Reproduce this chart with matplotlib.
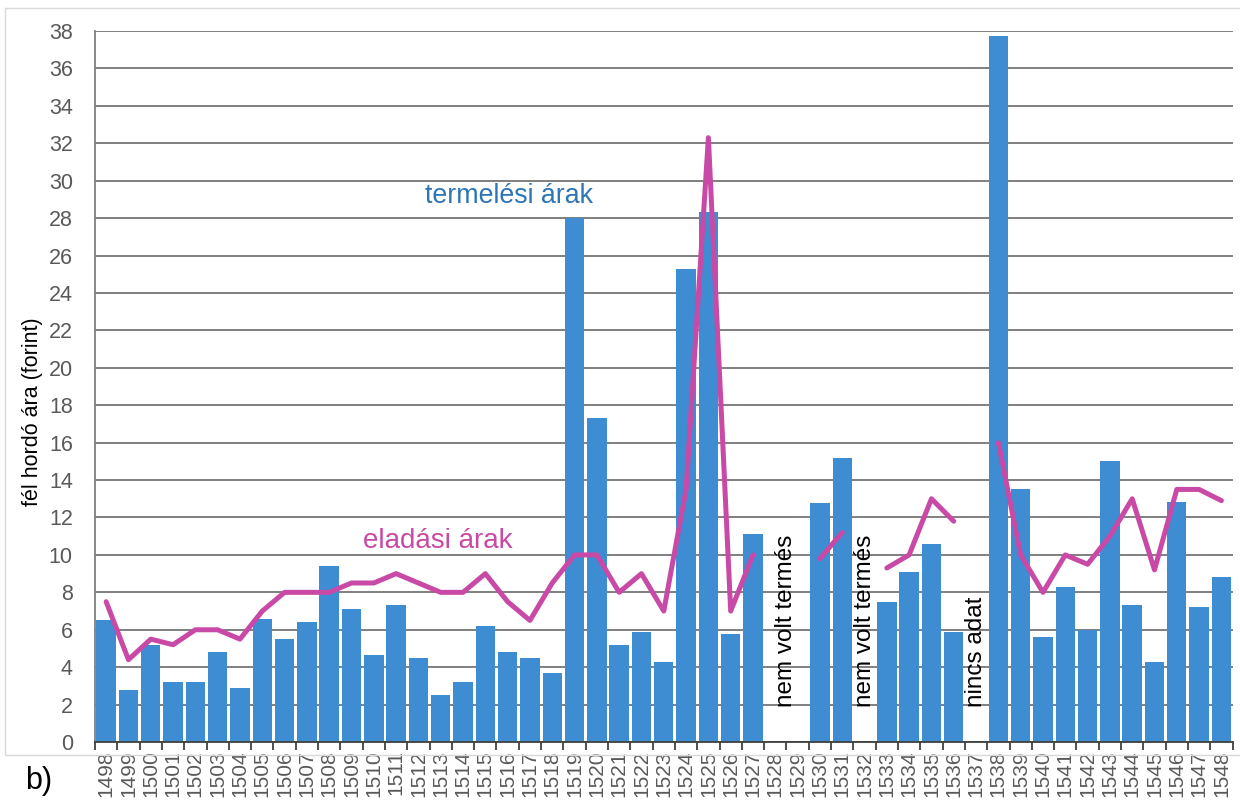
import numpy as np
import matplotlib.pyplot as plt
from matplotlib.patches import Rectangle

plt.rcParams['font.family'] = ['Liberation Sans', 'DejaVu Sans']

years = list(range(1498, 1549))

# termelési árak (bars), nan = no data
termelesi = [6.5, 2.8, 5.2, 3.2, 3.2, 4.8, 2.9, 6.6, 5.5, 6.4,
             9.4, 7.1, 4.65, 7.3, 4.5, 2.5, 3.2, 6.2, 4.8, 4.5,
             3.7, 28.0, 17.3, 5.2, 5.9, 4.3, 25.3, 28.3, 5.8, 11.1,
             np.nan, np.nan, 12.8, 15.2, np.nan, 7.5, 9.1, 10.6, 5.9, np.nan,
             37.75, 13.5, 5.6, 8.3, 6.0, 15.0, 7.3, 4.3, 12.85, 7.2,
             8.8]

# eladási árak (line)
eladasi = [7.5, 4.4, 5.5, 5.2, 6.0, 6.0, 5.5, 7.0, 8.0, 8.0,
           8.0, 8.5, 8.5, 9.0, 8.5, 8.0, 8.0, 9.0, 7.5, 6.5,
           8.5, 10.0, 10.0, 8.0, 9.0, 7.0, 13.5, 32.3, 7.0, 10.0,
           np.nan, np.nan, 9.8, 11.2, np.nan, 9.3, 10.0, 13.0, 11.8, np.nan,
           16.0, 10.0, 8.0, 10.0, 9.5, 11.0, 13.0, 9.2, 13.5, 13.5,
           12.9]

notes = [(30.5, 'nem volt termés'), (34, 'nem volt termés'), (39, 'nincs adat')]

bar_color = '#3e8cd2'
line_color = '#c94aa6'
grid_color = '#7f7f7f'

fig = plt.figure(figsize=(12.4, 8.07), dpi=100)
ax = fig.add_axes([0.0766, 0.0805, 0.9174, 0.8811])

x = np.arange(len(years))
ax.bar(x, termelesi, width=0.87, color=bar_color, zorder=2)
ax.plot(x, eladasi, color=line_color, lw=3.6, solid_capstyle='round',
        solid_joinstyle='round', zorder=3)

ax.set_xlim(-0.5, len(years) - 0.5)
ax.set_ylim(0, 38)
ax.set_yticks(np.arange(0, 39, 2))
ax.yaxis.grid(True, color=grid_color, lw=1.4, zorder=0)
ax.set_axisbelow(True)

ax.set_xticks(x)
ax.set_xticklabels([str(y) for y in years], rotation=90)
ax.set_xticks(np.arange(-0.5, len(years), 1), minor=True)
ax.tick_params(axis='x', which='major', length=0, pad=6, labelsize=15,
               labelcolor='#595959')
ax.tick_params(axis='x', which='minor', length=6, width=1.3, color='#404040')
ax.tick_params(axis='y', length=0, pad=16, labelsize=15.5, labelcolor='#595959')

for s in ['top', 'right']:
    ax.spines[s].set_visible(False)
ax.spines['left'].set_color(grid_color)
ax.spines['left'].set_linewidth(1.3)
ax.spines['bottom'].set_color('#404040')
ax.spines['bottom'].set_linewidth(1.3)

ax.set_ylabel('fél hordó ára (forint)', fontsize=15.5)
ax.yaxis.set_label_coords(-0.046, (742 - 412) / (742 - 31))

for xi, txt in notes:
    ax.text(xi, 1.85, txt, rotation=90, ha='center', va='bottom',
            fontsize=17.5, color='black', zorder=4)

ax.text(14.3, 29.2, 'termelési árak', color='#2e75b6', fontsize=19.3,
        va='center', ha='left')
ax.text(11.5, 10.75, 'eladási árak', color=line_color, fontsize=20,
        va='center', ha='left')

fig.text(0.02, 1 - 781 / 807, 'b)', fontsize=22, va='center', ha='left')

fig.patches.append(Rectangle((5 / 1240, 1 - 755 / 807), 1.0, (755 - 8) / 807,
                             transform=fig.transFigure, fill=False,
                             edgecolor='#d9d9d9', lw=1.0))

fig.savefig('out.png', dpi=100)
